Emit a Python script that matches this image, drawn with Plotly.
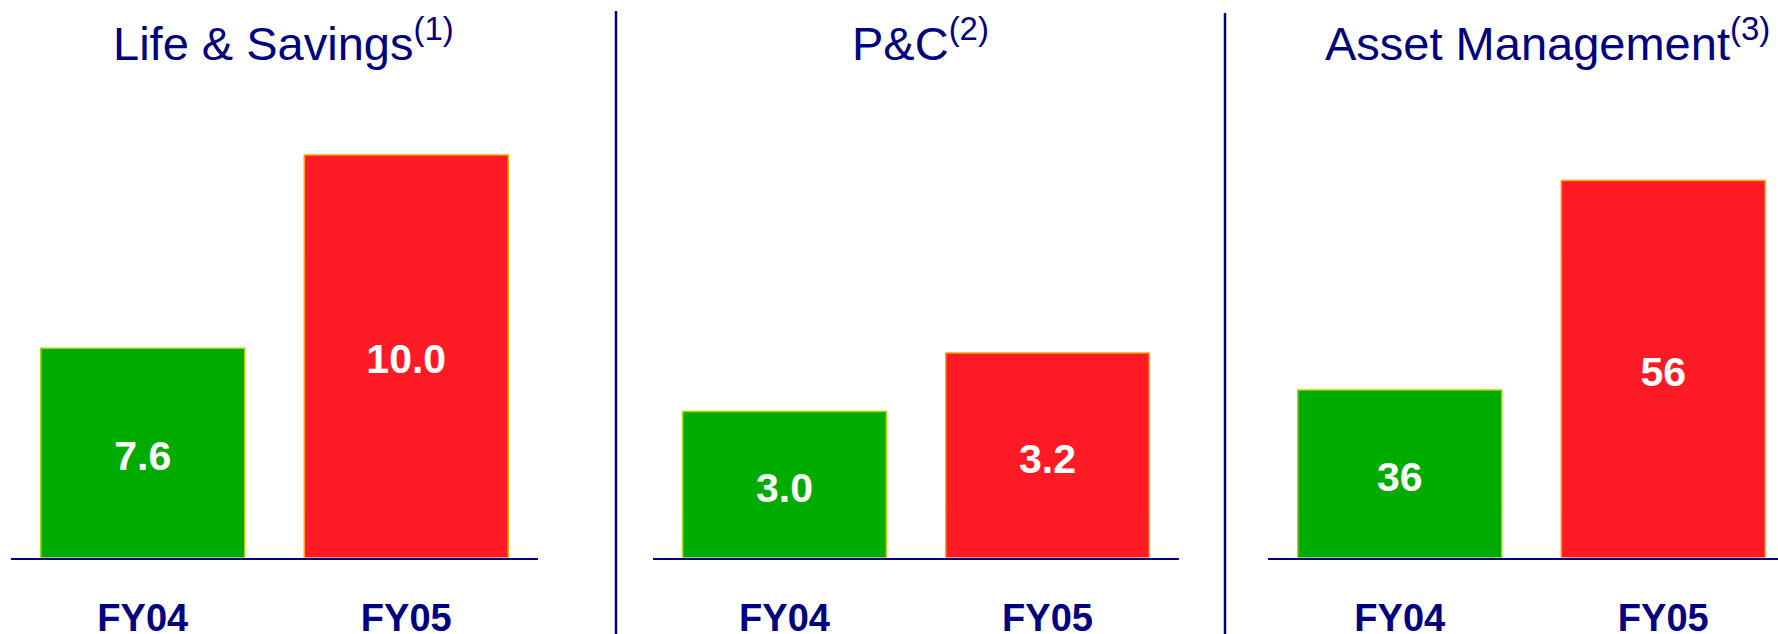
import plotly.graph_objects as go

# ---- data ----
periods = ["FY04", "FY05"]
segments = ["Life & Savings", "P&C", "Asset Management"]
footnotes = ["(1)", "(2)", "(3)"]
life_savings = [7.6, 10.0]
pc = [3.0, 3.2]
asset_mgmt = [36, 56]
value_labels = [["7.6", "10.0"], ["3.0", "3.2"], ["36", "56"]]
axis_floor = [5, 2.5, 20]          # value axis starts above zero in the original
axis_top = [10.683, 4.066, 63.70]

series = [life_savings, pc, asset_mgmt]

# ---- styles ----
W, H = 1778, 634
NAVY = "#000080"
FILL = ["#00AB00", "#FF1B25"]
EDGE = ["#A8D400", "#FFA500"]
FONT = "Liberation Sans, Arial, sans-serif"

x_dom_px = [(11, 538), (653, 1179), (1268, 1778)]
x_ranges = [[-0.5, 1.5], [-0.5, 1.5], [-0.5, -0.5 + 510 / 263.5]]
y_bottom_px, y_top_px = 557.5, 100
y_dom = [(H - y_bottom_px) / H, (H - y_top_px) / H]
title_x_px = [111, 850, 1323]
label_drop_px = 7   # visual centring of the value labels

fig = go.Figure()

for i, vals in enumerate(series):
    xa = "x" if i == 0 else f"x{i+1}"
    ya = "y" if i == 0 else f"y{i+1}"
    fig.add_trace(go.Bar(
        x=periods, y=vals, xaxis=xa, yaxis=ya,
        marker=dict(color=FILL, line=dict(color=EDGE, width=1.5)),
        showlegend=False, hoverinfo="x+y",
    ))
    px_per_unit = (y_bottom_px - y_top_px) / (axis_top[i] - axis_floor[i])
    mids = [(v + axis_floor[i]) / 2 - label_drop_px / px_per_unit for v in vals]
    fig.add_trace(go.Scatter(
        x=periods, y=mids, xaxis=xa, yaxis=ya, mode="text",
        text=value_labels[i], textposition="middle center",
        textfont=dict(family=FONT, size=41, color="white", weight="bold"),
        cliponaxis=False, showlegend=False, hoverinfo="skip",
    ))

    axis_kw = dict(
        domain=[x_dom_px[i][0] / W, x_dom_px[i][1] / W],
        range=x_ranges[i], type="category",
        showline=True, linecolor=NAVY, linewidth=2,
        showgrid=False, zeroline=False, ticks="",
        ticklabelstandoff=26, automargin=False,
        tickfont=dict(family=FONT, size=38, color=NAVY, weight="bold"),
        anchor=ya, fixedrange=True,
    )
    yaxis_kw = dict(
        domain=list(y_dom), range=[axis_floor[i], axis_top[i]],
        visible=False, showgrid=False, zeroline=False, automargin=False,
        anchor=xa, fixedrange=True,
    )
    key = "" if i == 0 else str(i + 1)
    fig.update_layout(**{f"xaxis{key}": axis_kw, f"yaxis{key}": yaxis_kw})

    fig.add_annotation(
        xref="paper", yref="paper",
        x=title_x_px[i] / W, y=(H - 40) / H,
        xanchor="left", yanchor="middle",
        text=f"{segments[i]}<sup>{footnotes[i]}</sup>",
        showarrow=False,
        font=dict(family=FONT, size=47, color=NAVY),
    )

# separators between panels
for xs, top in [(616, 11), (1225, 13)]:
    fig.add_shape(type="line", xref="paper", yref="paper",
                  x0=xs / W, x1=xs / W, y0=0, y1=(H - top) / H,
                  line=dict(color=NAVY, width=2.5))

fig.update_layout(
    width=W, height=H,
    margin=dict(l=0, r=0, t=0, b=0, autoexpand=False),
    paper_bgcolor="white", plot_bgcolor="white",
    bargap=0.226,
    font=dict(family=FONT),
)

fig.write_html(
    "out.html",
    config={"displayModeBar": False},
    post_script="document.body.style.margin='0';document.body.style.overflow='hidden';",
)
